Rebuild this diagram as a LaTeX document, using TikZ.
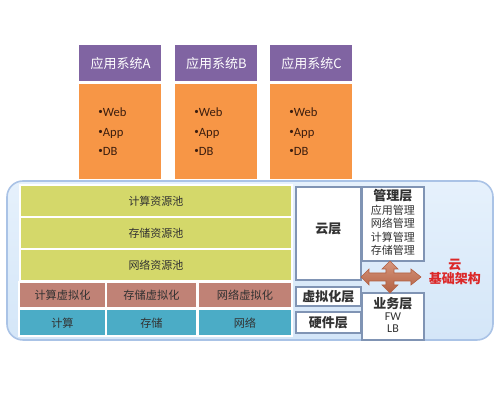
\documentclass[tikz,border=0pt]{standalone}
\usepackage{fontspec}
\setmainfont{Noto Sans CJK SC}
\newfontfamily\lat{Carlito}
\definecolor{hdr}{RGB}{128,100,162}
\definecolor{org}{RGB}{247,150,70}
\definecolor{pool}{RGB}{212,216,106}
\definecolor{virt}{RGB}{192,130,118}
\definecolor{hwc}{RGB}{75,172,198}
\definecolor{bgtop}{RGB}{230,241,252}
\definecolor{bgbot}{RGB}{212,230,248}
\definecolor{bgline}{RGB}{170,195,230}
\definecolor{boxline}{RGB}{128,148,180}
\definecolor{arrc}{RGB}{204,124,92}
\definecolor{arrd}{RGB}{178,96,66}
\definecolor{redt}{RGB}{220,40,40}
\definecolor{txt}{RGB}{50,50,50}
\definecolor{btxt}{RGB}{60,30,15}
\newcommand{\bdot}{{\fontsize{4.5}{4.5}\selectfont\raisebox{1pt}{•}}}
\begin{document}
\begin{tikzpicture}[x=0.5pt,y=-0.5pt,
  hdrbox/.style={fill=hdr, draw=white, line width=0.5pt, text=white, minimum width=41.5pt, minimum height=18.5pt, inner sep=0, font=\fontsize{6.5}{7}\selectfont},
  orgbox/.style={fill=org, draw=white, line width=0.5pt, minimum width=41.5pt, minimum height=48pt, inner sep=0},
  bul/.style={anchor=base west, inner sep=0, text=btxt, font=\lat\fontsize{6.3}{7}\selectfont},
  cell/.style={draw=white, line width=1pt, inner sep=0, text=txt},
  poolbox/.style={cell, fill=pool, minimum width=136pt, minimum height=16pt, font=\fontsize{5.5}{6}\selectfont},
  virtbox/.style={cell, fill=virt, minimum height=13pt, font=\fontsize{5.6}{6}\selectfont},
  hwbox/.style={cell, fill=hwc, minimum height=13.5pt, font=\fontsize{5.6}{6}\selectfont},
  wbox/.style={draw=boxline, fill=white, line width=0.6pt, inner sep=0, text=txt},
  bt/.style={inner sep=0, text=txt, font=\bfseries\fontsize{6.5}{7}\selectfont},
  st/.style={inner sep=0, text=txt, font=\fontsize{5.5}{6}\selectfont},
  lt/.style={inner sep=0, text=txt, font=\lat\fontsize{6}{7}\selectfont},
  redtxt/.style={inner sep=0, text=redt, font=\bfseries\fontsize{6.5}{7}\selectfont},
  bgbox/.style={draw=bgline, line width=0.8pt, top color=bgtop, bottom color=bgbot, rounded corners=8pt, inner sep=0}
]
\useasboundingbox (0,0) rectangle (500,400);

% top application boxes
\foreach \n/\cx in {A/79,B/175,C/270} {
  \node[orgbox] (o\n) at (\cx+41.5,131.5) {};
  \node[hdrbox] (h\n) at (\cx+41.5,63.5) {应用系统\n};
  \node[bul] (w\n) at (\cx+19,117) {\bdot Web};
  \node[bul] (p\n) at (\cx+19,137) {\bdot App};
  \node[bul] (d\n) at (\cx+19,156) {\bdot DB};
}

% background
\node[bgbox, minimum width=243pt, minimum height=79.5pt] (bg) at (250,260.5) {};

% pools
\node[poolbox] (p1) at (156,201.5) {计算资源池};
\node[poolbox] (p2) at (156,233.5) {存储资源池};
\node[poolbox] (p3) at (156,265.5) {网络资源池};

\node[virtbox, minimum width=43.5pt] (v1) at (62.5,295.5) {计算虚拟化};
\node[virtbox, minimum width=45.5pt] (v2) at (151.5,295.5) {存储虚拟化};
\node[virtbox, minimum width=47pt] (v3) at (245,295.5) {网络虚拟化};

\node[hwbox, minimum width=43.5pt] (c1) at (62.5,323) {计算};
\node[hwbox, minimum width=45.5pt] (c2) at (151.5,323) {存储};
\node[hwbox, minimum width=47pt] (c3) at (245,323) {网络};

% right side layers
\node[wbox, minimum width=32.5pt, minimum height=46.5pt] (cloud) at (328.5,233.5) {};
\node[bt] (cloudt) at (328.5,229) {云层};
\node[wbox, minimum width=32.5pt, minimum height=9.5pt, font=\bfseries\fontsize{6.5}{7}\selectfont] (virl) at (328.5,296.5) {虚拟化层};
\node[wbox, minimum width=32.5pt, minimum height=10.5pt, font=\bfseries\fontsize{6.5}{7}\selectfont] (hwl) at (328.5,322.5) {硬件层};

\node[wbox, minimum width=31pt, minimum height=37pt] (mgt) at (393,224) {};
\node[bt] (mgtt) at (393,196) {管理层};
\node[st] (m1) at (393,210) {应用管理};
\node[st] (m2) at (393,223.5) {网络管理};
\node[st] (m3) at (393,237) {计算管理};
\node[st] (m4) at (393,250) {存储管理};

\node[wbox, minimum width=31pt, minimum height=23.5pt] (biz) at (393,316.5) {};
\node[bt] (bizt) at (393,304) {业务层};
\node[lt] (fw) at (393,317) {FW};
\node[lt] (lb) at (393,329) {LB};

% four-way arrow
\path[draw=arrd, line width=0.3pt, top color=arrc!80!white, bottom color=arrd, shading angle=0]
 (421,277) -- (411,269) -- (411,273) -- (394,273) -- (394,269) -- (398,269) -- (390,261)
 -- (382,269) -- (386,269) -- (386,273) -- (369,273) -- (369,269) -- (361,277)
 -- (369,285) -- (369,281) -- (386,281) -- (386,285) -- (382,285) -- (390,293)
 -- (398,285) -- (394,285) -- (394,281) -- (411,281) -- (411,285) -- cycle;

% red label
\node[redtxt] (yun) at (455,265) {云};
\node[redtxt] (jc) at (455,279) {基础架构};
\end{tikzpicture}
\end{document}
